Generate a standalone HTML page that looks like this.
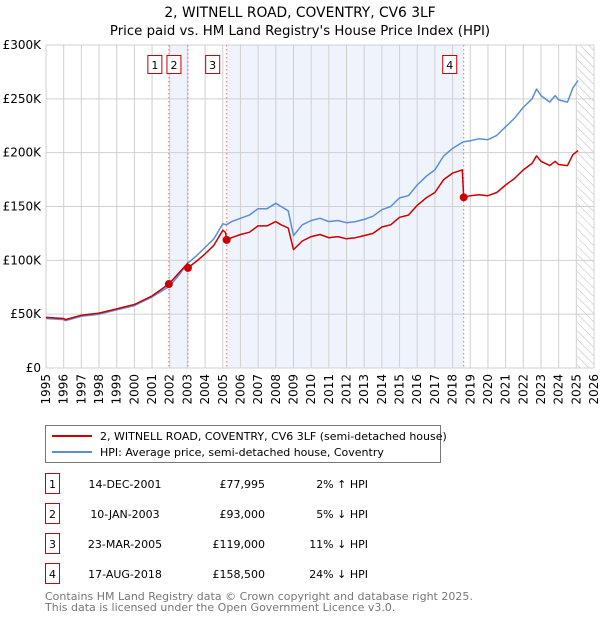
<!DOCTYPE html>
<html><head><meta charset="utf-8"><style>
body{margin:0;background:#fff;font-family:"Liberation Sans","DejaVu Sans",sans-serif;}
svg text{font-family:"DejaVu Sans","Liberation Sans",sans-serif;}
</style></head><body>
<svg id="chart" width="600" height="620" viewBox="0 0 600 620" xmlns="http://www.w3.org/2000/svg">
<defs><pattern id="hatch" patternUnits="userSpaceOnUse" width="6" height="6" patternTransform="rotate(-45)"><line x1="0" y1="0" x2="0" y2="6" stroke="#bbb" stroke-width="1"/></pattern></defs>
<text x="300" y="17" text-anchor="middle" font-size="13.8" fill="#000">2, WITNELL ROAD, COVENTRY, CV6 3LF</text>
<text x="300" y="35" text-anchor="middle" font-size="13.3" fill="#000">Price paid vs. HM Land Registry's House Price Index (HPI)</text>
<g id="plot"></g>
<g>
<rect x="45.5" y="425.5" width="395" height="37" fill="#fff" stroke="#777"/>
<line x1="52" y1="436" x2="92" y2="436" stroke="#cc0000" stroke-width="2"/>
<text x="100" y="440" font-size="11">2, WITNELL ROAD, COVENTRY, CV6 3LF (semi-detached house)</text>
<line x1="52" y1="452" x2="92" y2="452" stroke="#5b8fd4" stroke-width="2"/>
<text x="100" y="456" font-size="11">HPI: Average price, semi-detached house, Coventry</text>
</g>
<g id="table" font-size="11"></g>
<text x="45" y="600" font-size="11" fill="#777">Contains HM Land Registry data © Crown copyright and database right 2025.</text>
<text x="45" y="611" font-size="11" fill="#777">This data is licensed under the Open Government Licence v3.0.</text>
</svg>
<script>
const hpiYears=[1995,1996,1996.1,1997,1998,1999,2000,2001,2002,2002.5,2003,2003.5,2004,2004.5,2005,2005.2,2005.5,2006,2006.5,2007,2007.5,2008,2008.3,2008.7,2009,2009.5,2010,2010.5,2011,2011.5,2012,2012.5,2013,2013.5,2014,2014.5,2015,2015.5,2016,2016.5,2017,2017.5,2018,2018.6,2019,2019.5,2020,2020.5,2021,2021.5,2022,2022.5,2022.75,2023,2023.5,2023.8,2024,2024.5,2024.8,2025.1];
const hpiValues=[46,45,44,48,50,54,58,66,76,86,97,104,112,120,134,133,136,139,142,148,148,153,150,146,123,133,137,139,136,137,135,136,138,141,147,150,158,160,170,178,184,197,204,210,211,213,212,216,224,232,242,250,259,253,247,253,249,247,260,267];
const redYears=[1995,1996,1996.1,1997,1998,1999,2000,2001,2001.95,2002.5,2003.0,2003.03,2003.5,2004,2004.5,2005,2005.15,2005.22,2005.5,2006,2006.5,2007,2007.5,2008,2008.3,2008.7,2009,2009.5,2010,2010.5,2011,2011.5,2012,2012.5,2013,2013.5,2014,2014.5,2015,2015.5,2016,2016.5,2017,2017.5,2018,2018.55,2018.63,2019,2019.5,2020,2020.5,2021,2021.5,2022,2022.5,2022.75,2023,2023.5,2023.8,2024,2024.5,2024.8,2025.1];
const redValues=[47,46,45,49,51,55,59,67,78,88,97,93,99,106,114,128,126,119,121,124,126,132,132,136,133,130,110,118,122,124,121,122,120,121,123,125,131,133,140,142,151,158,163,175,181,184,158.5,160,161,160,163,170,176,184,190,197,192,188,192,189,188,198,202];
const saleLabels=["1","2","3","4"];
const saleYears=[2001.95,2003.03,2005.22,2018.63];
const saleValues=[77995,93000,119000,158500];
const saleDates=["14-DEC-2001","10-JAN-2003","23-MAR-2005","17-AUG-2018"];
const salePrices=["£77,995","£93,000","£119,000","£158,500"];
const saleHpi=["2% ↑ HPI","5% ↓ HPI","11% ↓ HPI","24% ↓ HPI"];
const yTicks=[0,50,100,150,200,250,300];
const yTickLabels=["£0","£50K","£100K","£150K","£200K","£250K","£300K"];

const NS="http://www.w3.org/2000/svg";
const X0=46,X1=594,Y0=368,Y1=45;
const xs=y=>X0+(y-1995)/(2026-1995)*(X1-X0);
const ys=v=>Y0-v/300*(Y0-Y1);
const plot=document.getElementById('plot');
function mk(t,a,p){const e=document.createElementNS(NS,t);for(const k in a)e.setAttribute(k,a[k]);(p||plot).appendChild(e);return e;}
let s=mk('rect',{x:xs(saleYears[0]),y:Y1,width:xs(saleYears[1])-xs(saleYears[0]),height:Y0-Y1,fill:'#eef3fc'});


s=mk('rect',{x:xs(saleYears[2]),y:Y1,width:xs(saleYears[3])-xs(saleYears[2]),height:Y0-Y1,fill:'#eef3fc'});


s=mk('rect',{x:xs(2025.05),y:Y1,width:X1-xs(2025.05),height:Y0-Y1,fill:'url(#hatch)'});


for(let y=1995;y<=2026;y++){
 mk('line',{x1:xs(y),x2:xs(y),y1:Y1,y2:Y0,stroke:'#d0d0d0','stroke-width':1});
 const t=mk('text',{transform:`translate(${xs(y)+4},${Y0+6}) rotate(-90)`,'text-anchor':'end','font-size':12});
 t.textContent=y;
 
 
}
yTicks.forEach((v,i)=>{
 mk('line',{x1:X0,x2:X1,y1:ys(v),y2:ys(v),stroke:'#d0d0d0','stroke-width':1});
 const t=mk('text',{x:X0-5,y:ys(v)+4,'text-anchor':'end','font-size':12});
 t.textContent=yTickLabels[i];
 
 
});
saleYears.forEach((y,i)=>{
 const l=mk('line',{x1:xs(y),x2:xs(y),y1:Y1,y2:Y0,stroke:'#f07070','stroke-width':1,'stroke-dasharray':'1.5,2.5'});
 
 
 const g=mk('g',{});
 
 
 mk('rect',{x:xs(y)-21,y:55.5,width:14,height:18,fill:'#fff',stroke:'#cc0000'},g);
 const t=mk('text',{x:xs(y)-14,y:69,'text-anchor':'middle','font-size':11},g);
 t.textContent=saleLabels[i];
});
function line(xa,va,col,name){
 const d=xa.map((x,i)=>(i?'L':'M')+xs(x).toFixed(1)+','+ys(va[i]).toFixed(1)).join('');
 const p=mk('path',{d:d,fill:'none',stroke:col,'stroke-width':1.5,'stroke-linejoin':'round'});
 
 
}
line(hpiYears,hpiValues,'#5b8fd4','hpi-line');
line(redYears,redValues,'#cc0000','price-paid-line');
saleYears.forEach((y,i)=>{
 const c=mk('circle',{cx:xs(y),cy:ys(saleValues[i]/1000),r:4,fill:'#cc0000'});
 
 
});
const tb=document.getElementById('table');
saleLabels.forEach((lab,i)=>{
 const y0=473+i*30;
 const g=mk('g',{},tb);
 
 
 mk('rect',{x:45.5,y:y0+0.5,width:14,height:20,fill:'#fff',stroke:'#cc0000'},g);
 let t=mk('text',{x:52.5,y:y0+15,'text-anchor':'middle'},g);t.textContent=lab;
 t=mk('text',{x:125,y:y0+15,'text-anchor':'middle'},g);t.textContent=saleDates[i];
 t=mk('text',{x:265,y:y0+15,'text-anchor':'end'},g);t.textContent=salePrices[i];
 t=mk('text',{x:368,y:y0+15,'text-anchor':'end'},g);t.textContent=saleHpi[i];
});
</script>
</body></html>
